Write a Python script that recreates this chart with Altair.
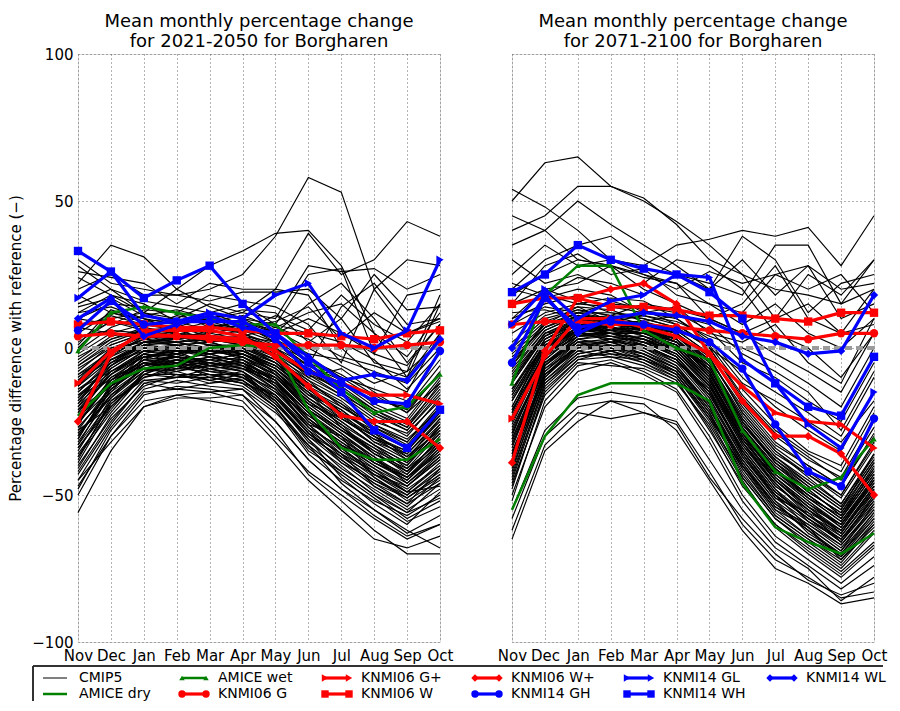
import altair as alt
import pandas as pd

MONTHS = ["Nov", "Dec", "Jan", "Feb", "Mar", "Apr", "May", "Jun", "Jul", "Aug", "Sep", "Oct"]

# CMIP5 model runs, % change per month (2021-2050)
CMIP5_2050 = [
    [30, 22, 20, 18, 20, 25, 38, 58, 53, 20, 5, 10],
    [22, 35, 31, 20, 28, 33, 39, 40, 28, 5, -10, 15],
    [26, 24, 22, 15, 22, 20, 20, 39, 25, 30, 43, 38],
    [15, 20, 12, 10, 15, 12, 10, 28, 26, 27, 20, 25],
    [28, 20, 16, 14, 12, 15, 8, 25, 27, -2, 18, 20],
    [20, 25, 18, 18, 16, 19, 19, 20, 10, 25, 13, 14],
    [24, 18, 12, 20, 14, 10, 5, 15, 22, 10, -5, 8],
    [10, 15, 14, 12, 18, 16, 14, 8, -5, 20, 30, 28],
    [18, 12, 10, 8, 10, 12, 20, 18, 0, -10, -15, 5],
    [12, 18, 15, 9, 6, 4, 2, -6, 14, 22, 8, 10],
    [5, 12, 9, 10, 8, 7, 3, -5, -10, -14, -18, -4],
    [8, 10, 12, 8, 10, 9, 6, 0, -6, -12, -8, 2],
    [2, 9, 7, 11, 9, 6, 4, -2, -4, -8, -12, 0],
    [12, 14, 10, 6, 9, 11, 7, 3, -3, -6, -10, 5],
    [-1, 7, 11, 9, 12, 8, 2, -8, -12, -18, -20, -6],
    [0, 11, 8, 7, 6, 10, 8, 5, 2, -4, -14, -2],
    [4, 6, 5, 7, 11, 5, 0, -10, -7, -15, -22, -12],
    [10, 8, 13, 12, 7, 9, 5, 10, 5, -2, -6, 8],
    [7, 5, 3, 5, 3, 4, 7, 12, 15, 5, -3, 12],
    [3, 9, 6, 4, 8, 6, 11, 6, 18, 8, 2, 15],
    [1, 13, 9, 8, 5, 7, 9, 14, 3, 12, 5, 9],
    [14, 17, 11, 13, 10, 13, 12, 2, 10, -5, -8, 18],
    [-42, -25, -12, -10, -9, -12, -20, -35, -42, -50, -58, -52],
    [-33, -14, -5, -8, -6, -4, -12, -22, -35, -41, -47, -38],
    [-28, -20, -9, -4, -7, -9, -14, -26, -30, -44, -51, -43],
    [-38, -18, -11, -12, -10, -8, -18, -31, -44, -53, -60, -49],
    [-22, -9, -1, -3, 1, -2, -7, -15, -27, -34, -40, -26],
    [-17, -6, 2, 1, -2, 0, -9, -19, -24, -31, -35, -22],
    [-25, -12, -4, 0, -3, -6, -11, -24, -33, -38, -44, -33],
    [-12, -3, 4, 2, 3, 1, -4, -12, -18, -27, -32, -19],
    [-30, -16, -7, -9, -12, -10, -16, -29, -38, -46, -53, -41],
    [-19, -4, 1, 4, 2, -1, -5, -16, -21, -29, -37, -28],
    [-8, 1, 5, 3, 6, 4, -1, -9, -14, -22, -27, -14],
    [-45, -27, -14, -11, -13, -14, -22, -33, -46, -55, -63, -57],
    [-14, -8, -3, -5, -1, -3, -8, -18, -26, -36, -42, -31],
    [-5, 3, 7, 5, 4, 6, 2, -6, -11, -19, -24, -10],
    [-36, -21, -8, -6, -9, -11, -19, -30, -37, -43, -49, -47],
    [-24, -11, -6, -2, -5, -7, -10, -21, -29, -37, -46, -36],
    [-10, -2, 3, 6, 3, 2, -3, -10, -16, -24, -30, -17],
    [-31, -13, -2, -4, -2, -5, -13, -27, -34, -42, -48, -40],
    [-20, -10, -5, -7, -4, -2, -6, -14, -23, -30, -38, -24],
    [-40, -24, -13, -9, -11, -13, -21, -36, -45, -52, -57, -50],
    [-2, 5, 8, 6, 7, 5, 1, -4, -9, -16, -22, -8],
    [-27, -15, -3, -1, -6, -8, -15, -23, -31, -39, -45, -34],
    [-16, -7, 0, -1, 0, -1, -7, -17, -25, -33, -39, -27],
    [-34, -19, -10, -7, -8, -9, -17, -28, -36, -47, -54, -44],
    [-11, 0, 2, 3, 5, 3, -2, -11, -20, -26, -31, -21],
    [-23, -8, -2, -5, -3, -4, -9, -20, -28, -35, -43, -30],
    [-47, -30, -16, -13, -14, -16, -25, -38, -48, -57, -64, -60],
    [-6, 2, 6, 7, 4, 3, -1, -7, -13, -21, -26, -13],
    [-29, -17, -6, -3, -8, -7, -12, -25, -32, -40, -47, -37],
    [-18, -5, -1, 0, -2, 0, -5, -13, -19, -28, -34, -23],
    [-37, -22, -9, -10, -7, -10, -18, -32, -40, -49, -56, -46],
    [-13, -4, 1, -2, 1, -1, -6, -15, -22, -32, -36, -25],
    [-26, -11, -4, -6, -5, -3, -10, -19, -27, -36, -41, -32],
    [-9, -1, 4, 5, 2, 4, 0, -8, -15, -23, -28, -16],
    [-32, -16, -8, -5, -10, -12, -16, -28, -39, -45, -50, -42],
    [-21, -13, -7, -4, -6, -5, -11, -22, -30, -39, -44, -35],
    [-43, -26, -12, -14, -12, -11, -20, -34, -43, -51, -59, -54],
    [-15, -5, 2, 2, -1, 1, -4, -14, -20, -27, -33, -20],
    [-4, 4, 6, 4, 5, 7, 3, -3, -10, -17, -21, -9],
    [-39, -20, -10, -8, -11, -9, -19, -31, -41, -48, -55, -48],
    [-30, -14, -6, -4, -5, -6, -13, -24, -33, -41, -49, -39],
    [-19, -9, -2, 1, -1, -3, -9, -18, -26, -33, -41, -29],
    [-26, -10, -3, -2, 0, -4, -11, -22, -31, -38, -45, -35],
    [-13, -2, 3, 1, 2, -1, -6, -14, -21, -30, -35, -23],
    [-35, -17, -8, -7, -6, -8, -16, -27, -37, -45, -51, -44],
    [-9, -3, 2, 4, 1, 0, -4, -11, -17, -25, -29, -18],
    [-22, -7, 0, -1, -2, -5, -10, -20, -28, -34, -42, -33],
    [-16, -11, -4, -3, -4, -2, -8, -17, -24, -31, -37, -26],
    [-28, -13, -5, -6, -3, -6, -14, -26, -35, -43, -47, -38],
    [-7, 0, 4, 3, 4, 2, -2, -9, -16, -22, -28, -15],
    [-33, -18, -9, -5, -8, -10, -17, -29, -36, -44, -52, -45],
    [-20, -6, 1, 2, 0, -2, -8, -19, -27, -35, -40, -28],
    [-11, -4, 0, -2, 1, 1, -5, -13, -22, -29, -34, -22],
    [-24, -12, -5, -3, -5, -7, -12, -23, -30, -37, -44, -34],
    [-17, -5, 1, 0, -1, -2, -7, -16, -23, -32, -38, -27],
    [-37, -19, -9, -9, -9, -11, -18, -30, -39, -47, -53, -46],
    [-3, 3, 6, 5, 3, 4, 0, -6, -12, -20, -25, -11],
    [-27, -15, -7, -4, -6, -5, -13, -25, -33, -40, -46, -37],
    [-14, -6, 0, 1, -2, -1, -6, -15, -24, -30, -36, -24],
    [-31, -12, -4, -5, -4, -7, -14, -27, -34, -43, -50, -41],
    [-21, -9, -3, -1, -3, -4, -9, -21, -28, -36, -42, -31],
    [-10, -1, 3, 2, 3, 1, -3, -12, -19, -26, -32, -20],
    [-41, -23, -11, -10, -10, -12, -20, -33, -42, -50, -56, -51],
    [-18, -8, -1, -2, 0, -3, -8, -18, -25, -33, -39, -29],
    [-25, -14, -6, -5, -7, -6, -11, -24, -32, -39, -44, -36],
    [-6, 1, 5, 4, 2, 3, -1, -8, -14, -21, -27, -12],
    [-29, -16, -7, -8, -5, -8, -15, -26, -36, -42, -49, -40],
    [-15, -4, 2, 3, 1, 0, -5, -14, -22, -28, -34, -21],
    [-23, -11, -2, -3, -4, -5, -10, -21, -29, -38, -43, -32],
    [-34, -20, -10, -6, -9, -9, -17, -29, -38, -46, -51, -43],
    [-56, -35, -20, -17, -17, -16, -28, -43, -52, -62, -70, -70],
    [-50, -30, -18, -16, -18, -20, -32, -45, -55, -65, -68, -64],
    [-48, -28, -15, -14, -15, -18, -30, -42, -50, -58, -65, -60],
    [-45, -32, -20, -16, -15, -14, -25, -38, -48, -55, -62, -68],
]

# CMIP5 model runs, right panel (2071-2100)
CMIP5_2100 = [
    [50, 63, 65, 55, 50, 43, 35, 25, 10, 15, 5, 20],
    [54, 48, 40, 30, 28, 35, 37, 40, 38, 41, 28, 45],
    [40, 45, 55, 55, 51, 42, 30, 25, 20, 18, 15, 30],
    [35, 40, 50, 42, 35, 28, 20, 38, 30, 12, 22, 25],
    [20, 30, 35, 38, 30, 25, 22, 18, 35, 35, 15, 20],
    [25, 35, 28, 30, 25, 20, 26, 22, 25, 28, 10, 15],
    [15, 28, 32, 25, 27, 18, 15, 12, 25, 20, 25, 12],
    [30, 22, 25, 20, 22, 30, 28, 20, 5, 0, -10, 5],
    [18, 25, 30, 28, 24, 22, 10, 5, 10, 25, 18, 30],
    [10, 20, 22, 28, 20, 15, 10, 15, 28, 10, 5, 8],
    [45, 40, 30, 28, 25, 22, 15, 8, 15, 5, 0, 10],
    [22, 18, 24, 22, 18, 25, 20, 30, 18, 28, 20, 22],
    [5, 12, 15, 14, 12, 10, 3, -10, -20, -28, -35, -15],
    [10, 15, 18, 16, 13, 8, 0, -8, -15, -22, -30, -10],
    [8, 14, 12, 15, 14, 12, 6, -5, -10, -18, -25, -5],
    [15, 20, 16, 12, 11, 9, 4, 0, -5, -12, -20, 0],
    [2, 11, 14, 13, 9, 11, 8, -2, -8, -15, -28, -8],
    [12, 13, 10, 11, 15, 13, 10, 5, -2, -8, -15, 5],
    [20, 17, 20, 18, 12, 14, 5, 2, 8, -5, -12, 10],
    [0, 18, 15, 17, 16, 10, 2, -12, -18, -25, -32, -18],
    [-48, -14, -4, -1, -5, -11, -27, -47, -60, -68, -76, -66],
    [-22, 3, 9, 6, 7, 2, -8, -29, -41, -50, -58, -41],
    [-40, -9, 1, -2, -3, -9, -23, -41, -56, -64, -70, -57],
    [-5, 8, 12, 10, 6, 4, -4, -20, -33, -40, -47, -30],
    [-33, -6, 3, 5, 1, -4, -17, -37, -50, -61, -69, -53],
    [-14, 1, 5, 8, 9, 3, -10, -31, -45, -54, -62, -47],
    [-25, -3, 6, 2, 4, -1, -12, -32, -47, -55, -64, -49],
    [-52, -18, -6, -4, -8, -14, -30, -50, -64, -72, -80, -71],
    [-10, 5, 7, 4, 2, 0, -7, -26, -38, -47, -55, -36],
    [-30, -2, 4, 6, 3, -3, -15, -35, -49, -58, -66, -52],
    [-18, 2, 8, 7, 5, 2, -9, -28, -43, -52, -60, -44],
    [-44, -12, -2, 0, -4, -10, -25, -44, -58, -66, -74, -62],
    [0, 10, 13, 11, 8, 6, -2, -18, -30, -38, -44, -25],
    [-37, -7, 0, 3, -1, -6, -20, -40, -53, -62, -71, -58],
    [-12, 4, 10, 9, 8, 4, -6, -25, -39, -48, -57, -40],
    [-27, -5, 2, -1, 2, -2, -13, -33, -46, -57, -63, -48],
    [-8, 6, 11, 8, 7, 5, -3, -22, -35, -44, -53, -36],
    [-46, -16, -5, -6, -7, -12, -26, -45, -61, -70, -78, -68],
    [-20, 0, 6, 9, 4, 1, -11, -30, -42, -51, -59, -45],
    [-35, -10, 1, 2, -2, -7, -19, -39, -54, -60, -67, -55],
    [-3, 7, 12, 12, 10, 7, 0, -16, -28, -36, -42, -22],
    [-29, -4, 5, 3, 0, -4, -16, -34, -48, -59, -65, -51],
    [-15, 3, 8, 5, 6, 3, -8, -27, -40, -49, -56, -39],
    [-41, -11, -1, -3, -4, -8, -22, -43, -57, -65, -73, -60],
    [-24, -1, 7, 7, 5, 0, -12, -31, -44, -53, -61, -46],
    [-6, 9, 10, 6, 9, 5, -5, -23, -36, -43, -50, -33],
    [-38, -8, 2, 0, -2, -7, -21, -38, -52, -63, -70, -56],
    [-16, 1, 6, 10, 7, 2, -9, -28, -41, -50, -58, -43],
    [-31, -6, 4, 4, 1, -5, -14, -36, -51, -56, -66, -50],
    [-11, 5, 9, 7, 5, 1, -6, -24, -37, -46, -54, -38],
    [-50, -20, -8, -5, -9, -15, -32, -52, -66, -74, -82, -74],
    [-21, -2, 5, 5, 3, -1, -13, -30, -45, -55, -62, -47],
    [-2, 8, 14, 9, 11, 8, 1, -14, -26, -35, -40, -20],
    [-36, -9, -1, 1, -3, -9, -24, -40, -55, -61, -72, -59],
    [-42, -10, 0, 1, -2, -8, -21, -40, -54, -62, -70, -58],
    [-20, 1, 7, 6, 5, 1, -10, -29, -43, -51, -59, -44],
    [-31, -5, 3, 4, 2, -3, -15, -34, -48, -57, -64, -50],
    [-9, 5, 10, 8, 7, 4, -5, -24, -37, -45, -53, -37],
    [-36, -8, 1, -1, 0, -6, -19, -38, -52, -60, -68, -55],
    [-16, 2, 8, 8, 6, 3, -8, -27, -40, -48, -57, -42],
    [-26, -3, 4, 5, 3, -2, -14, -33, -47, -55, -63, -48],
    [-45, -13, -3, -2, -5, -10, -24, -44, -58, -67, -75, -63],
    [-12, 4, 9, 10, 6, 2, -7, -25, -39, -47, -55, -39],
    [-33, -7, 2, 2, 1, -4, -17, -36, -50, -58, -66, -53],
    [-4, 7, 12, 9, 9, 6, -2, -19, -32, -40, -47, -29],
    [-23, -1, 6, 7, 4, 0, -11, -31, -44, -54, -60, -46],
    [-39, -11, -2, 0, -3, -8, -22, -41, -55, -64, -71, -60],
    [-18, 0, 7, 5, 5, 2, -9, -28, -42, -50, -58, -43],
    [-28, -4, 5, 3, 3, -2, -13, -32, -46, -56, -62, -49],
    [-7, 6, 11, 10, 8, 5, -4, -21, -34, -42, -50, -32],
    [-47, -15, -4, -3, -6, -11, -28, -46, -60, -69, -77, -67],
    [-14, 3, 9, 8, 7, 3, -7, -26, -39, -49, -56, -41],
    [-34, -6, 3, 1, 0, -5, -18, -37, -51, -59, -67, -54],
    [-21, -2, 6, 6, 5, 1, -10, -30, -43, -52, -61, -45],
    [-1, 9, 13, 11, 10, 7, 0, -17, -29, -37, -45, -27],
    [-29, -5, 4, 5, 2, -3, -16, -35, -49, -57, -65, -51],
    [-43, -12, -3, -1, -4, -9, -23, -42, -57, -65, -72, -61],
    [-11, 4, 9, 7, 6, 3, -6, -25, -38, -46, -54, -38],
    [-25, -2, 5, 4, 4, -1, -12, -32, -45, -54, -63, -47],
    [-38, -9, 0, 2, -1, -7, -20, -39, -53, -61, -69, -56],
    [-17, 1, 8, 9, 6, 2, -8, -27, -41, -51, -57, -42],
    [-6, 7, 11, 8, 8, 5, -3, -22, -35, -43, -51, -34],
    [-32, -6, 2, 3, 1, -4, -15, -35, -50, -58, -65, -52],
    [-22, 0, 6, 5, 3, 0, -11, -29, -44, -53, -60, -45],
    [-65, -35, -25, -18, -19, -28, -45, -62, -75, -80, -87, -85],
    [-62, -33, -22, -24, -22, -25, -42, -60, -72, -78, -85, -83],
    [-58, -30, -20, -18, -22, -26, -44, -58, -70, -79, -84, -80],
    [-55, -28, -17, -15, -17, -21, -38, -55, -68, -75, -86, -78],
]

SCENARIOS = ["AMICE dry", "AMICE wet", "KNMI06 G", "KNMI06 G+", "KNMI06 W", "KNMI06 W+",
             "KNMI14 GH", "KNMI14 GL", "KNMI14 WH", "KNMI14 WL"]

SCEN_2050 = {
    "AMICE dry": [-23, -12, -7, -6, 0, 1, 0, -21, -34, -38, -38, -31],
    "AMICE wet": [-1, 12, 14, 12, 10, 8, 8, -3, -14, -22, -20, -9],
    "KNMI06 G": [4, 5, 4, 4, 3, 2, 1, 1, 1, 0, 1, 2],
    "KNMI06 G+": [-12, -1, 5, 4, 4, 3, -1, -8, -12, -16, -16, -19],
    "KNMI06 W": [8, 9, 8, 7, 7, 6, 5, 5, 4, 3, 5, 6],
    "KNMI06 W+": [-25, -2, 6, 6, 6, 4, -3, -13, -23, -25, -25, -34],
    "KNMI14 GH": [6, 16, 8, 9, 9, 9, 3, -8, -12, -18, -19, -1],
    "KNMI14 GL": [17, 26, 11, 9, 12, 10, 18, 22, 5, 0, 6, 30],
    "KNMI14 WH": [33, 26, 17, 23, 28, 15, 5, -5, -15, -28, -34, -21],
    "KNMI14 WL": [10, 17, 4, 8, 11, 7, 5, -3, -11, -9, -11, 3],
}

SCEN_2100 = {
    "AMICE dry": [-55, -30, -16, -12, -12, -12, -18, -46, -61, -66, -70, -63],
    "AMICE wet": [-12, 18, 28, 28, 6, 0, -4, -28, -42, -48, -44, -31],
    "KNMI06 G": [8, 9, 9, 8, 8, 7, 6, 5, 4, 3, 5, 5],
    "KNMI06 G+": [-24, -3, 10, 10, 7, 4, -2, -13, -22, -25, -26, -34],
    "KNMI06 W": [15, 17, 17, 14, 14, 13, 11, 11, 10, 9, 12, 12],
    "KNMI06 W+": [-39, -1, 17, 20, 22, 15, -2, -18, -30, -30, -36, -50],
    "KNMI14 GH": [-5, 17, 7, 9, 8, 6, 2, -7, -26, -42, -47, -24],
    "KNMI14 GL": [8, 20, 10, 16, 18, 25, 24, -4, -12, -26, -34, -15],
    "KNMI14 WH": [19, 25, 35, 30, 27, 25, 19, 10, -12, -20, -23, -3],
    "KNMI14 WL": [0, 18, 5, 10, 12, 11, 9, 4, 2, -2, -1, 18],
}

COLORS = {"AMICE dry": "#008000", "AMICE wet": "#008000",
          "KNMI06 G": "#ff0000", "KNMI06 G+": "#ff0000", "KNMI06 W": "#ff0000", "KNMI06 W+": "#ff0000",
          "KNMI14 GH": "#0000ff", "KNMI14 GL": "#0000ff", "KNMI14 WH": "#0000ff", "KNMI14 WL": "#0000ff"}
SHAPES = {"AMICE dry": "circle", "AMICE wet": "triangle-up",
          "KNMI06 G": "circle", "KNMI06 G+": "triangle-right", "KNMI06 W": "square", "KNMI06 W+": "diamond",
          "KNMI14 GH": "circle", "KNMI14 GL": "triangle-right", "KNMI14 WH": "square", "KNMI14 WL": "diamond"}
FAMILIES = [["AMICE dry", "AMICE wet"],
            ["KNMI06 G", "KNMI06 G+", "KNMI06 W", "KNMI06 W+"],
            ["KNMI14 GH", "KNMI14 GL", "KNMI14 WH", "KNMI14 WL"]]

FONT = "DejaVu Sans"
GRID = dict(grid=True, gridDash=[1, 3], gridColor="#666", gridWidth=1, ticks=False, domain=False,
            labelFont=FONT, labelFontSize=15, labelColor="black")
PW, PH = 362, 588


def panel(period, cmip, scen, first):
    cm = pd.DataFrame([{"model": i, "month": m, "value": v}
                       for i, row in enumerate(cmip) for m, v in zip(MONTHS, row)])
    sc = pd.DataFrame([{"scenario": k, "month": m, "value": v}
                       for k in SCENARIOS for m, v in zip(MONTHS, scen[k])])

    x = alt.X("month:N", sort=MONTHS, scale=alt.Scale(type="point", padding=0),
              axis=alt.Axis(title=None, labelAngle=0, labelPadding=6, **GRID))
    if first:
        y_axis = alt.Axis(values=[-100, -50, 0, 50, 100], labelPadding=5,
                          title="Percentage difference with reference (\u2212)",
                          titleFont=FONT, titleFontSize=15, titleFontWeight="normal",
                          titleColor="black", titlePadding=8, **GRID)
    else:
        y_axis = alt.Axis(values=[-100, -50, 0, 50, 100], labels=False, title=None, **GRID)
    y = alt.Y("value:Q", scale=alt.Scale(domain=[-100, 100], nice=False, zero=False), axis=y_axis)

    models = alt.Chart(cm).mark_line(color="black", strokeWidth=1.15).encode(x, y, detail="model:N")
    zero = alt.Chart(cm).mark_rule(color="#9a9a9a", strokeDash=[7, 4], strokeWidth=2.5).encode(y=alt.datum(0))

    colour = alt.Color("scenario:N", scale=alt.Scale(domain=SCENARIOS, range=[COLORS[s] for s in SCENARIOS]),
                       legend=None)
    shape = alt.Shape("scenario:N", scale=alt.Scale(domain=SCENARIOS, range=[SHAPES[s] for s in SCENARIOS]),
                      legend=None)
    layers = [models, zero]
    for fam in FAMILIES:
        amice = fam[0].startswith("AMICE")
        base = alt.Chart(sc).transform_filter(alt.FieldOneOfPredicate(field="scenario", oneOf=fam))
        layers.append(base.mark_line(strokeWidth=2.5 if amice else 3.2).encode(x, y, colour, detail="scenario:N"))
        layers.append(base.transform_filter("datum.scenario != 'AMICE dry'")
                      .mark_point(filled=True, opacity=1, size=30 if amice else 70)
                      .encode(x, y, colour, shape))

    # two-line panel title, drawn as text so both panels put it at the same height
    for line, top in [("Mean monthly percentage change", -41), (f"for {period} for Borgharen", -21)]:
        layers.append(alt.Chart(pd.DataFrame({"t": [line]})).mark_text(
            font=FONT, fontSize=18, align="center", baseline="top", color="black"
        ).encode(x=alt.value(PW / 2), y=alt.value(top), text="t:N"))
    return alt.layer(*layers).properties(width=PW, height=PH)


# legend: two rows, filled column by column as matplotlib does.
# x positions are pixels relative to the left edge of the first plot area.
LEGEND_ITEMS = ["CMIP5"] + SCENARIOS
col_start = [-35, 104, 247, 397, 549, 692]
rows = []
for i, name in enumerate(LEGEND_ITEMS):
    c, r = divmod(i, 2)
    x0 = col_start[c]
    rows.append({
        "label": name, "x0": x0, "x1": x0 + 24, "xt": x0 + 36, "y": 12 + 16 * r,
        "color": COLORS.get(name, "black"),
        "lw": 1 if name == "CMIP5" else (2.5 if name.startswith("AMICE") else 3.2),
        "shape": SHAPES.get(name, "circle"),
        "msize": 0 if name in ("CMIP5", "AMICE dry") else (30 if name.startswith("AMICE") else 55),
    })
leg = pd.DataFrame(rows)
LW, LH = 805, 35
lx = alt.Scale(domain=[0, LW], range=[0, LW], nice=False, zero=False)
ly = alt.Scale(domain=[0, LH], range=[0, LH], nice=False, zero=False)
lbase = alt.Chart(leg)
legend = alt.layer(
    lbase.mark_rule(color="#333", strokeWidth=1.2).encode(x=alt.value(-45), x2=alt.value(LW), y=alt.value(0)),
    lbase.mark_rule(color="#333", strokeWidth=1.2).encode(x=alt.value(-45), y=alt.value(0), y2=alt.value(LH)),
    lbase.mark_rule().encode(
        x=alt.X("x0:Q", scale=lx, axis=None), x2="x1:Q", y=alt.Y("y:Q", scale=ly, axis=None),
        color=alt.Color("color:N", scale=None), strokeWidth=alt.StrokeWidth("lw:Q", scale=None)),
    lbase.transform_fold(["x0", "x1"], as_=["end", "xp"]).mark_point(filled=True, opacity=1).encode(
        x=alt.X("xp:Q", scale=lx, axis=None), y=alt.Y("y:Q", scale=ly, axis=None),
        color=alt.Color("color:N", scale=None), shape=alt.Shape("shape:N", scale=None),
        size=alt.Size("msize:Q", scale=None)),
    lbase.mark_text(align="left", baseline="middle", font=FONT, fontSize=14, color="black").encode(
        x=alt.X("xt:Q", scale=lx, axis=None), y=alt.Y("y:Q", scale=ly, axis=None), text="label:N"),
).properties(width=LW, height=LH, view=alt.ViewBackground(strokeOpacity=0))

# spacing is measured between the axis-label bounds ("Oct" / "Nov" overhang the frames)
panels = alt.hconcat(
    panel("2021-2050", CMIP5_2050, SCEN_2050, True),
    panel("2071-2100", CMIP5_2100, SCEN_2100, False),
    spacing=42,
).resolve_scale(color="independent", shape="independent")

chart = alt.vconcat(panels, legend, spacing=1).properties(
    padding={"left": 0, "top": 4, "right": 0, "bottom": 0}
).configure_view(stroke="#222", strokeWidth=1.3).configure(background="white")

chart.save("out.html", embed_options={"renderer": "svg", "actions": False})
